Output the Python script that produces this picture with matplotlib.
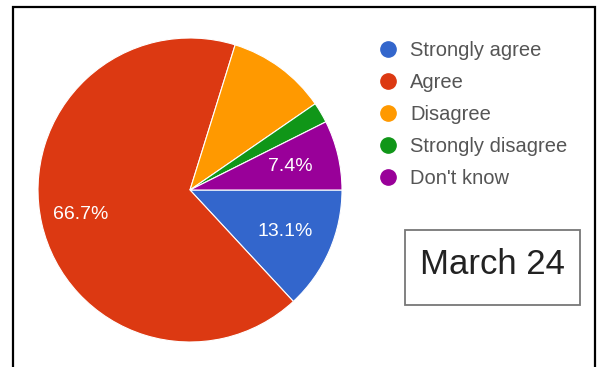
import matplotlib
matplotlib.use("Agg")
import matplotlib.pyplot as plt
from matplotlib.lines import Line2D
from matplotlib.patches import Rectangle
import numpy as np

# Data
labels = ["Strongly agree", "Agree", "Disagree", "Strongly disagree", "Don't know"]
values = [13.1, 66.7, 10.6, 2.2, 7.4]
shown_pct = ["13.1%", "66.7%", "", "", "7.4%"]
colors = ["#3366cc", "#dc3912", "#ff9900", "#109618", "#990099"]
date_label = "March 24"

W, H = 597, 367
fig = plt.figure(figsize=(W / 100, H / 100), dpi=100)
plt.rcParams['font.family'] = ['Liberation Sans', 'DejaVu Sans']

# outer frame
fig.patches.append(Rectangle((13 / W, -0.05), (595 - 13) / W, 1.05 - 7 / H,
                             transform=fig.transFigure, fill=False,
                             edgecolor="black", linewidth=1.6, clip_on=False))

# pie axes, centre (190, 190) radius 152 px
cx, cy, r = 190, 190, 152
ax = fig.add_axes([(cx - r) / W, (H - cy - r) / H, 2 * r / W, 2 * r / H])
wedges, _ = ax.pie(values, colors=colors, startangle=0, counterclock=False,
                   wedgeprops=dict(edgecolor="white", linewidth=0.8))
ax.set_xlim(-1, 1)
ax.set_ylim(-1, 1)
ax.set_aspect("equal")
ax.axis("off")

# percentage labels
for w, txt in zip(wedges, shown_pct):
    if not txt:
        continue
    ang = np.deg2rad((w.theta1 + w.theta2) / 2)
    d = 0.74 if w.theta2 - w.theta1 > 180 else 0.68
    ax.text(d * np.cos(ang), d * np.sin(ang), txt, color="white",
            fontsize=14, ha="center", va="center")

# legend
handles = [Line2D([], [], marker="o", linestyle="none", markersize=11,
                  markerfacecolor=c, markeredgecolor=c) for c in colors]
leg = fig.legend(handles, labels, loc="upper left",
                 bbox_to_anchor=(376 / W, 1 - 41 / H), frameon=False,
                 fontsize=14.5, labelspacing=0.65, handletextpad=0.5,
                 handlelength=1.2, borderpad=0, borderaxespad=0)
for t in leg.get_texts():
    t.set_color("#555555")

# date box
fig.patches.append(Rectangle((405 / W, 1 - 305 / H), 175 / W, 75 / H,
                             transform=fig.transFigure, fill=False,
                             edgecolor="#777777", linewidth=1.3))
fig.text(492 / W, 1 - 264 / H, date_label, fontsize=25, color="#222222",
         ha="center", va="center")

fig.savefig("out.png", dpi=100, facecolor="white")
